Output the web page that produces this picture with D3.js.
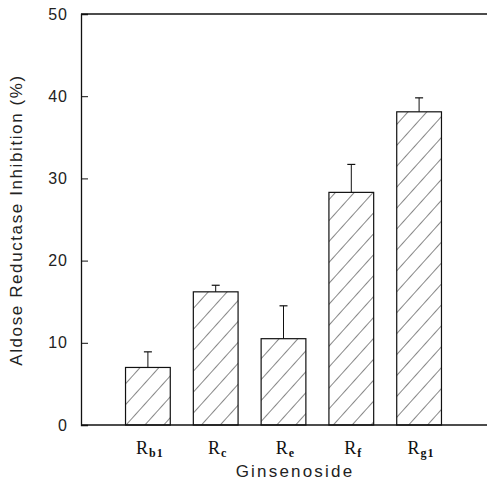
<!DOCTYPE html>
<html>
<head>
<meta charset="utf-8">
<script src="https://cdn.jsdelivr.net/npm/d3@7"></script>
<style>
  body { margin: 0; background: #fff; }
</style>
</head>
<body>
<div id="chart"></div>
<script>
// data
var names = ["Rb1", "Rc", "Re", "Rf", "Rg1"];
var mainPart = ["R", "R", "R", "R", "R"];
var subPart = ["b1", "c", "e", "f", "g1"];
var values = [7.0, 16.2, 10.5, 28.3, 38.1];
var errors = [1.9, 0.8, 4.0, 3.4, 1.7];
var yTicks = [0, 10, 20, 30, 40, 50];

var margin = {top: 14, right: 0, bottom: 58, left: 81},
    width = 487 - margin.left - margin.right,
    height = 483 - margin.top - margin.bottom;

var svg = d3.select("#chart")
    .append("svg")
    .attr("width", width + margin.left + margin.right)
    .attr("height", height + margin.top + margin.bottom);

// hatch pattern
var defs = svg.append("defs");
defs.append("pattern")
    .attr("id", "hatch")
    .attr("patternUnits", "userSpaceOnUse")
    .attr("width", 14)
    .attr("height", 14)
    .attr("patternTransform", "rotate(42)")
  .append("line")
    .attr("x1", 0).attr("y1", 0)
    .attr("x2", 0).attr("y2", 14)
    .attr("stroke", "#111")
    .attr("stroke-width", 1);

var g = svg.append("g")
    .attr("transform", "translate(" + margin.left + "," + margin.top + ")");

var x = d3.scaleBand()
    .domain(names)
    .range([33, 372])
    .paddingInner(0.34)
    .paddingOuter(0.17);

var y = d3.scaleLinear()
    .domain([0, 50])
    .range([height, 0]);

// y axis, ticks pointing inward
var yAxis = g.append("g")
    .call(d3.axisLeft(y).tickValues(yTicks).tickSize(-7).tickPadding(13));
yAxis.select(".domain").attr("stroke", "#111").attr("stroke-width", 1.3);
yAxis.selectAll(".tick line").attr("stroke", "#111");
yAxis.selectAll(".tick text")
    .attr("fill", "#222")
    .style("font-family", "'Liberation Sans', Arial, sans-serif")
    .style("font-size", "16px")
    .style("letter-spacing", "1px");

// top and bottom frame lines
g.append("line")
    .attr("x1", 0).attr("x2", width)
    .attr("y1", y(50)).attr("y2", y(50))
    .attr("stroke", "#111").attr("stroke-width", 1.3);
g.append("line")
    .attr("x1", 0).attr("x2", width)
    .attr("y1", y(0)).attr("y2", y(0))
    .attr("stroke", "#111").attr("stroke-width", 1.3);

// error bars
g.selectAll(".err")
    .data(names)
    .enter().append("g")
    .each(function(d, i) {
        var cx = x(d) + x.bandwidth() / 2;
        var el = d3.select(this);
        el.append("line")
            .attr("x1", cx).attr("x2", cx)
            .attr("y1", y(values[i])).attr("y2", y(values[i] + errors[i]))
            .attr("stroke", "#111").attr("stroke-width", 1);
        el.append("line")
            .attr("x1", cx - 4).attr("x2", cx + 4)
            .attr("y1", y(values[i] + errors[i])).attr("y2", y(values[i] + errors[i]))
            .attr("stroke", "#111").attr("stroke-width", 1.2);
    });

// bars
g.selectAll(".bar")
    .data(names)
    .enter().append("rect")
    .attr("x", function(d) { return x(d); })
    .attr("y", function(d, i) { return y(values[i]); })
    .attr("width", x.bandwidth())
    .attr("height", function(d, i) { return height - y(values[i]); })
    .attr("fill", "url(#hatch)")
    .attr("stroke", "#111")
    .attr("stroke-width", 1.2);

// category labels with subscripts
var labels = g.selectAll(".lab")
    .data(names)
    .enter().append("text")
    .attr("x", function(d) { return x(d) + x.bandwidth() / 2 + 2; })
    .attr("y", height + 29)
    .attr("text-anchor", "middle")
    .style("font-family", "'Liberation Serif', 'Times New Roman', serif")
    .style("font-size", "18px")
    .style("letter-spacing", "1px")
    .attr("fill", "#111");
labels.append("tspan").text(function(d, i) { return mainPart[i]; });
labels.append("tspan")
    .attr("dy", 3)
    .style("font-size", "12px")
    .style("font-weight", "bold")
    .text(function(d, i) { return subPart[i]; });

// axis titles
svg.append("text")
    .attr("x", 295)
    .attr("y", 477)
    .attr("text-anchor", "middle")
    .style("font-family", "'Liberation Sans', Arial, sans-serif")
    .style("font-size", "17px")
    .style("letter-spacing", "2.2px")
    .attr("fill", "#222")
    .text("Ginsenoside");

svg.append("text")
    .attr("transform", "translate(22,220) rotate(-90)")
    .attr("text-anchor", "middle")
    .style("font-family", "'Liberation Sans', Arial, sans-serif")
    .style("font-size", "17px")
    .style("letter-spacing", "1.6px")
    .attr("fill", "#222")
    .text("Aldose Reductase Inhibition (%)");
</script>
</body>
</html>
